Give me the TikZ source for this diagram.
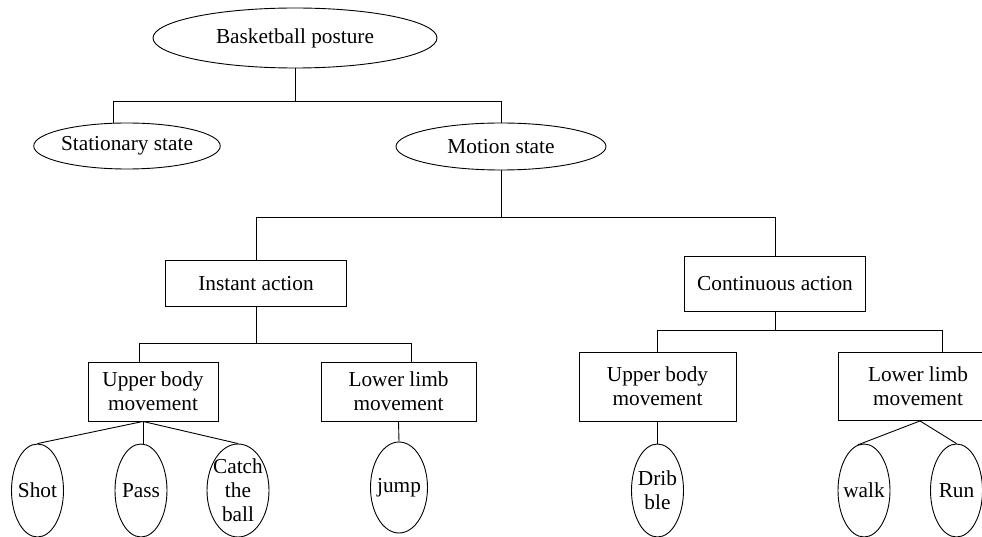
\documentclass[tikz,border=0pt]{standalone}
\usepackage{fontspec}
\setmainfont{Liberation Serif}
\usetikzlibrary{shapes.geometric}
\begin{document}
\begin{tikzpicture}[x=1pt,y=-1pt,line width=0.9pt,
  every node/.style={font=\fontsize{21.3}{24}\selectfont,align=center},
  oval/.style={draw,ellipse,inner sep=0pt},
  box/.style={draw,rectangle,inner sep=0pt},
  leaf/.style={draw,ellipse,inner xsep=-4pt,inner ysep=0pt,minimum width=52,minimum height=93}]
\useasboundingbox (0,0) rectangle (982,537);
% top levels
\node[oval,minimum width=284,minimum height=60] (post) at (295,38) {Basketball posture};
\node[oval,minimum width=182,minimum height=46] (stat) at (127,146) {Stationary state};
\node[oval,minimum width=210,minimum height=47] (motion) at (501,146.5) {Motion state};
\node[box,minimum width=181,minimum height=46] (inst) at (256,283.7) {Instant action};
\node[box,minimum width=181,minimum height=55] (cont) at (775,283.5) {Continuous action};
\node[box,minimum width=130,minimum height=59] (ubl) at (153,391.5) {Upper body\\movement};
\node[box,minimum width=155,minimum height=59] (lll) at (398.5,391.5) {Lower limb\\movement};
\node[box,minimum width=157,minimum height=69] (ubr) at (657.5,386.5) {Upper body\\movement};
\node[box,minimum width=160,minimum height=68] (llr) at (918,386.5) {Lower limb\\movement};
% leaves
\node[leaf] (shot) at (37.5,490.5) {Shot};
\node[leaf] (pass) at (141,490.5) {Pass};
\node[leaf,minimum width=62] (catch) at (238,490.5) {Catch\\the\\ball};
\node[leaf,minimum width=57,minimum height=91] (jump) at (399,487.5) {jump};
\node[leaf] (drib) at (657.5,490.5) {Drib\\ble};
\node[leaf] (walk) at (864,490.5) {walk};
\node[leaf] (run) at (956.5,490.5) {Run};
% connectors
\draw (post.south) -- ++(0,33) coordinate (j1);
\draw (stat.120) |- (j1) -| (motion.north);
\draw (motion.south) -- ++(0,47) coordinate (j2);
\draw (inst.north) |- (j2) -| (cont.north);
\draw (inst.south) -- ++(0,36) coordinate (j3);
\draw ([xshift=-14pt]ubl.north) |- (j3) -| ([xshift=12.5pt]lll.north);
\draw (cont.south) -- ++(0,19) coordinate (j4);
\draw (ubr.north) |- (j4) -| ([xshift=24pt]llr.north);
\coordinate (f1) at ([xshift=-10pt]ubl.south);
\draw (f1) -- (shot.north);
\draw (f1) -- (f1 |- pass.north);
\draw (f1) -- (catch.north);
\draw (lll.south) -- (jump.north);
\draw (ubr.south) -- (drib.north);
\coordinate (f2) at ([xshift=2pt]llr.south);
\draw (walk.98) -- (f2) -- (run.north);
\end{tikzpicture}
\end{document}
